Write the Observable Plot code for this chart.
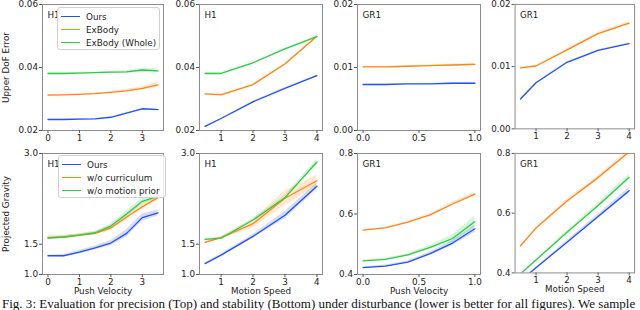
<!DOCTYPE html>
<html><head><meta charset="utf-8">
<script src="https://cdn.jsdelivr.net/npm/d3@7"></script>
<script src="https://cdn.jsdelivr.net/npm/@observablehq/plot@0.6"></script>
<style>
body{margin:0;background:#fff;}
#root{position:relative;width:640px;height:310px;overflow:hidden;font-family:"DejaVu Sans",sans-serif;}
.panel{position:absolute;}
.legend{position:absolute;background:rgba(255,255,255,0.85);border:1px solid #d0d0d0;border-radius:3px;font-size:8.8px;color:#222;box-sizing:border-box;}
.legend .row{position:absolute;left:0;height:12px;line-height:12px;white-space:nowrap;}
.legend .sw{position:absolute;left:3px;top:5.5px;width:19px;height:0;border-top:1.4px solid;}
.legend .lb{position:absolute;left:28px;top:0;}
.caption{position:absolute;left:2px;top:296.5px;font-family:"Liberation Serif",serif;font-size:10px;line-height:1;white-space:nowrap;color:#111;}
</style></head>
<body><div id="root"></div>
<script>
// ---------- data ----------
const titles = ["H1","H1","GR1","GR1","H1","H1","GR1","GR1"];
const topSeries = ["Ours","ExBody","ExBody (Whole)"];
const bottomSeries = ["Ours","w/o curriculum","w/o motion prior"];
const seriesColors = ["#2452f0","#ff8514","#2dcb45"];
const yLabels = ["Upper DoF Error","Projected Gravity"];
const xLabels = ["Push Velocity","Motion Speed","Push Velocity","Motion Speed"];
const captionText = "Fig. 3: Evaluation for precision (Top) and stability (Bottom) under disturbance (lower is better for all figures). We sample";

const xPushH1 = [0,0.5,1,1.5,2,2.5,3,3.5];
const xSpeed = [0.5,1,2,3,4];
const xPushGR1 = [0,0.2,0.4,0.6,0.8,1.0];

// Upper DoF error, H1, push velocity
const errH1PushOurs = [0.0235,0.0235,0.0236,0.0237,0.0242,0.0255,0.0269,0.0266];
const errH1PushExBody = [0.0312,0.0313,0.0315,0.0317,0.0321,0.0326,0.0334,0.0345];
const errH1PushWhole = [0.0381,0.0381,0.0382,0.0384,0.0385,0.0386,0.0392,0.0389];
const errH1PushOursSd = [0.0001,0.0001,0.0001,0.0001,0.0001,0.0002,0.0002,0.0002];
const errH1PushExBodySd = [0.0002,0.0002,0.0002,0.0002,0.0003,0.0004,0.0006,0.0008];
const errH1PushWholeSd = [0.0002,0.0002,0.0002,0.0002,0.0003,0.0004,0.0006,0.0007];
// Upper DoF error, H1, motion speed
const errH1SpeedOurs = [0.0213,0.0238,0.0291,0.0334,0.0374];
const errH1SpeedExBody = [0.0316,0.0313,0.0346,0.0411,0.0499];
const errH1SpeedWhole = [0.0381,0.0381,0.0415,0.0459,0.0498];
const errH1SpeedOursSd = [0.0001,0.0001,0.0002,0.0002,0.0002];
const errH1SpeedExBodySd = [0.0002,0.0002,0.0002,0.0003,0.0003];
const errH1SpeedWholeSd = [0.0002,0.0002,0.0002,0.0002,0.0002];
// Upper DoF error, GR1, push velocity
const errGR1PushOurs = [0.0073,0.0073,0.0074,0.0074,0.0075,0.0075];
const errGR1PushExBody = [0.0101,0.0101,0.0102,0.0103,0.0104,0.0105];
const errGR1PushOursSd = [0.00005,0.00005,0.00005,0.00005,0.00006,0.00006];
const errGR1PushExBodySd = [0.0001,0.0001,0.0001,0.0001,0.00015,0.0002];
// Upper DoF error, GR1, motion speed
const errGR1SpeedOurs = [0.0048,0.0074,0.0107,0.0126,0.0137];
const errGR1SpeedExBody = [0.0098,0.0101,0.0127,0.0153,0.0170];
const errGR1SpeedOursSd = [0.0001,0.0001,0.0001,0.0001,0.0001];
const errGR1SpeedExBodySd = [0.0001,0.0001,0.0002,0.0002,0.0002];

// Projected gravity, H1, push velocity
const gravH1PushOurs = [1.31,1.31,1.37,1.44,1.52,1.68,1.94,2.02];
const gravH1PushCurr = [1.61,1.62,1.65,1.68,1.77,1.95,2.12,2.27];
const gravH1PushPrior = [1.60,1.62,1.65,1.69,1.80,2.00,2.21,2.29];
const gravH1PushOursSd = [0.01,0.02,0.03,0.03,0.04,0.06,0.06,0.05];
const gravH1PushCurrSd = [0.03,0.03,0.03,0.03,0.04,0.05,0.05,0.04];
const gravH1PushPriorSd = [0.02,0.02,0.02,0.02,0.04,0.05,0.05,0.04];
// Projected gravity, H1, motion speed
const gravH1SpeedOurs = [1.18,1.32,1.63,1.98,2.46];
const gravH1SpeedCurr = [1.53,1.61,1.84,2.26,2.55];
const gravH1SpeedPrior = [1.58,1.60,1.90,2.27,2.86];
const gravH1SpeedOursSd = [0.01,0.02,0.03,0.06,0.05];
const gravH1SpeedCurrSd = [0.02,0.02,0.07,0.12,0.09];
const gravH1SpeedPriorSd = [0.02,0.02,0.02,0.03,0.05];
// Projected gravity, GR1, push velocity
const gravGR1PushOurs = [0.423,0.428,0.441,0.469,0.504,0.551];
const gravGR1PushCurr = [0.547,0.554,0.573,0.597,0.633,0.666];
const gravGR1PushPrior = [0.445,0.450,0.465,0.490,0.519,0.575];
const gravGR1PushOursSd = [0.003,0.003,0.004,0.005,0.008,0.012];
const gravGR1PushCurrSd = [0.002,0.002,0.003,0.004,0.006,0.005];
const gravGR1PushPriorSd = [0.003,0.003,0.004,0.006,0.012,0.018];
// Projected gravity, GR1, motion speed
const gravGR1SpeedOurs = [0.374,0.417,0.503,0.589,0.675];
const gravGR1SpeedCurr = [0.491,0.550,0.641,0.719,0.805];
const gravGR1SpeedPrior = [0.397,0.443,0.536,0.626,0.720];
const gravGR1SpeedOursSd = [0.002,0.003,0.005,0.007,0.010];
const gravGR1SpeedCurrSd = [0.002,0.003,0.006,0.006,0.008];
const gravGR1SpeedPriorSd = [0.002,0.003,0.005,0.007,0.010];

// tick values
const xTicksPushH1 = [0,1,2,3];
const xTicksSpeed = [1,2,3,4];
const xTicksPushGR1 = [0,0.5,1.0];
const yTicksErrH1 = [0.02,0.04,0.06];
const yTicksErrGR1 = [0.00,0.01,0.02];
const yTicksGravH1 = [1.0,1.5,3.0];
const yTicksGravGR1 = [0.4,0.6,0.8];

// ---------- layout ----------
const colLeft = [42,199,357,515];
const colRight = [163,322,480,636];
const rowTop = [4,153];
const rowBottom = [130,274];

const panels = [
  {x:xPushH1, ys:[errH1PushOurs,errH1PushExBody,errH1PushWhole], sds:[errH1PushOursSd,errH1PushExBodySd,errH1PushWholeSd], xd:[-0.175,3.675], yd:[0.02,0.06], xt:xTicksPushH1, yt:yTicksErrH1, xf:d3.format("d"), yf:d3.format(".2f")},
  {x:xSpeed, ys:[errH1SpeedOurs,errH1SpeedExBody,errH1SpeedWhole], sds:[errH1SpeedOursSd,errH1SpeedExBodySd,errH1SpeedWholeSd], xd:[0.325,4.175], yd:[0.02,0.06], xt:xTicksSpeed, yt:yTicksErrH1, xf:d3.format("d"), yf:d3.format(".2f")},
  {x:xPushGR1, ys:[errGR1PushOurs,errGR1PushExBody], sds:[errGR1PushOursSd,errGR1PushExBodySd], xd:[-0.05,1.05], yd:[0,0.02], xt:xTicksPushGR1, yt:yTicksErrGR1, xf:d3.format(".1f"), yf:d3.format(".2f")},
  {x:xSpeed, ys:[errGR1SpeedOurs,errGR1SpeedExBody], sds:[errGR1SpeedOursSd,errGR1SpeedExBodySd], xd:[0.325,4.175], yd:[0,0.02], xt:xTicksSpeed, yt:yTicksErrGR1, xf:d3.format("d"), yf:d3.format(".2f")},
  {x:xPushH1, ys:[gravH1PushOurs,gravH1PushCurr,gravH1PushPrior], sds:[gravH1PushOursSd,gravH1PushCurrSd,gravH1PushPriorSd], xd:[-0.175,3.675], yd:[1,3], xt:xTicksPushH1, yt:yTicksGravH1, xf:d3.format("d"), yf:d3.format(".1f")},
  {x:xSpeed, ys:[gravH1SpeedOurs,gravH1SpeedCurr,gravH1SpeedPrior], sds:[gravH1SpeedOursSd,gravH1SpeedCurrSd,gravH1SpeedPriorSd], xd:[0.325,4.175], yd:[1,3], xt:xTicksSpeed, yt:yTicksGravH1, xf:d3.format("d"), yf:d3.format(".1f")},
  {x:xPushGR1, ys:[gravGR1PushOurs,gravGR1PushCurr,gravGR1PushPrior], sds:[gravGR1PushOursSd,gravGR1PushCurrSd,gravGR1PushPriorSd], xd:[-0.05,1.05], yd:[0.4,0.8], xt:xTicksPushGR1, yt:yTicksGravGR1, xf:d3.format(".1f"), yf:d3.format(".1f")},
  {x:xSpeed, ys:[gravGR1SpeedOurs,gravGR1SpeedCurr,gravGR1SpeedPrior], sds:[gravGR1SpeedOursSd,gravGR1SpeedCurrSd,gravGR1SpeedPriorSd], xd:[0.325,4.175], yd:[0.4,0.8], xt:xTicksSpeed, yt:yTicksGravGR1, xf:d3.format("d"), yf:d3.format(".1f")}
];

const root = document.getElementById("root");
const FS = 8.8;

panels.forEach((p, i) => {
  const row = i < 4 ? 0 : 1, col = i % 4;
  const w = colRight[col] - colLeft[col];
  const h = rowBottom[row] - rowTop[row];
  const ml = col === 0 ? 42 : 34, mr = 6, mt = 6, mb = row === 0 ? 18 : 28;
  const names = row === 0 ? topSeries : bottomSeries;
  const marks = [];
  p.ys.forEach((ys, k) => {
    const rows = p.x.map((x, j) => ({x, y: ys[j], lo: ys[j] - p.sds[k][j], hi: ys[j] + p.sds[k][j], s: names[k]}));
    marks.push(Plot.areaY(rows, {x:"x", y1:"lo", y2:"hi", fill: seriesColors[k], fillOpacity: 0.2, clip: true}));
  });
  p.ys.forEach((ys, k) => {
    const rows = p.x.map((x, j) => ({x, y: ys[j], s: names[k]}));
    marks.push(Plot.lineY(rows, {x:"x", y:"y", stroke: seriesColors[k], strokeWidth: 1.3, clip: true}));
  });
  marks.push(Plot.frame({stroke:"#8c8c8c", strokeWidth: 1}));
  marks.push(Plot.axisX({ticks: p.xt, tickFormat: p.xf, tickSize: 3, tickPadding: 1, stroke:"#555", fill:"#222",
    label: row === 1 ? xLabels[col] : null, labelAnchor: "center", labelArrow: "none", labelOffset: 19}));
  marks.push(Plot.axisY({ticks: p.yt, tickFormat: p.yf, tickSize: 3, tickPadding: 1.5, stroke:"#555", fill:"#222",
    label: col === 0 ? yLabels[row] : null, labelAnchor: "center", labelArrow: "none", labelOffset: 40}));
  marks.push(Plot.text([titles[i]], {frameAnchor: "top-left", dx: 5, dy: 7, lineAnchor: "top", textAnchor: "start", fontSize: FS, fill: "#222"}));
  const svg = Plot.plot({
    width: ml + w + mr, height: mt + h + mb,
    marginLeft: ml, marginRight: mr, marginTop: mt, marginBottom: mb,
    x: {domain: p.xd}, y: {domain: p.yd},
    style: {background: "transparent", overflow: "visible", fontSize: FS + "px", fontFamily: "DejaVu Sans", color: "#222"},
    marks
  });
  const div = document.createElement("div");
  div.className = "panel";
  div.style.left = (colLeft[col] - ml) + "px";
  div.style.top = (rowTop[row] - mt) + "px";
  div.appendChild(svg);
  root.appendChild(div);
});

// legends (HTML overlays)
function legend(names, left, top, width) {
  const lg = document.createElement("div");
  lg.className = "legend";
  lg.style.left = left + "px"; lg.style.top = top + "px";
  lg.style.width = width + "px"; lg.style.height = "43px";
  names.forEach((n, k) => {
    const r = document.createElement("div");
    r.className = "row"; r.style.top = (2.5 + k * 13.2) + "px";
    r.innerHTML = `<span class="sw" style="border-color:${seriesColors[k]}"></span><span class="lb">${n}</span>`;
    lg.appendChild(r);
  });
  root.appendChild(lg);
}
legend(topSeries, 57, 7, 103);
legend(bottomSeries, 58, 155, 108);

const cap = document.createElement("div");
cap.className = "caption";
cap.textContent = captionText;
root.appendChild(cap);
const cw = cap.getBoundingClientRect().width;
cap.style.fontSize = (10 * 634 / cw) + "px";
</script>
</body></html>
